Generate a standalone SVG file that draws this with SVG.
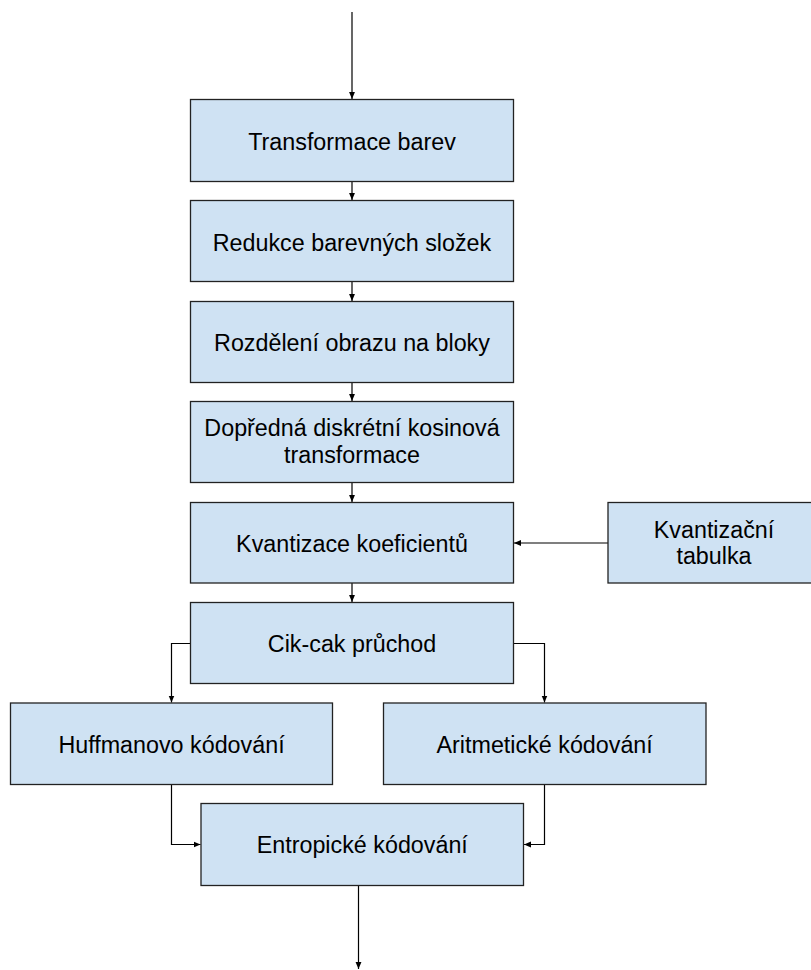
<svg xmlns="http://www.w3.org/2000/svg" width="811" height="970" viewBox="0 0 811 970">
<style>
.box{fill:#cfe2f3;stroke:#222;stroke-width:1.3}
.t{font-family:"Liberation Sans",Arial,sans-serif;font-size:23.3px;fill:#000;text-anchor:middle}
.c{fill:none;stroke:#000;stroke-width:1.2}
</style>
<defs>
<marker id="ah" viewBox="0 0 10 10" refX="10" refY="5" markerWidth="7" markerHeight="7" markerUnits="userSpaceOnUse" orient="auto">
<path d="M0,0.8 L10,5 L0,9.2 z" fill="#000"/>
</marker>
</defs>
<rect width="811" height="970" fill="#fff"/>
<g id="connectors">
<line class="c" x1="352" y1="12" x2="352" y2="99" marker-end="url(#ah)"/>
<line class="c" x1="352" y1="182" x2="352" y2="200" marker-end="url(#ah)"/>
<line class="c" x1="352" y1="282" x2="352" y2="301" marker-end="url(#ah)"/>
<line class="c" x1="352" y1="383" x2="352" y2="401" marker-end="url(#ah)"/>
<line class="c" x1="352" y1="483" x2="352" y2="502" marker-end="url(#ah)"/>
<line class="c" x1="352" y1="583" x2="352" y2="602" marker-end="url(#ah)"/>
<line class="c" x1="608" y1="543" x2="514" y2="543" marker-end="url(#ah)"/>
<polyline class="c" points="190.5,643.5 171.5,643.5 171.5,702.5" marker-end="url(#ah)"/>
<polyline class="c" points="513.5,643.5 544.5,643.5 544.5,702.5" marker-end="url(#ah)"/>
<polyline class="c" points="171.5,784.5 171.5,844.5 200.5,844.5" marker-end="url(#ah)"/>
<polyline class="c" points="544.5,784.5 544.5,844.5 524,844.5" marker-end="url(#ah)"/>
<line class="c" x1="358.5" y1="885.5" x2="358.5" y2="969" marker-end="url(#ah)"/>
</g>
<g id="n1"><rect class="box" x="190.5" y="99.5" width="323" height="82"/><text class="t" x="352" y="149.5">Transformace barev</text></g>
<g id="n2"><rect class="box" x="190.5" y="200.5" width="323" height="81"/><text class="t" x="352" y="250.5">Redukce barevných složek</text></g>
<g id="n3"><rect class="box" x="190.5" y="301.5" width="323" height="81"/><text class="t" x="352" y="350.5">Rozdělení obrazu na bloky</text></g>
<g id="n4"><rect class="box" x="190.5" y="401.5" width="323" height="81"/><text class="t" x="352" y="435.5">Dopředná diskrétní kosinová</text><text class="t" x="352" y="463">transformace</text></g>
<g id="n5"><rect class="box" x="190.5" y="502.5" width="323" height="80.5"/><text class="t" x="352" y="551.5">Kvantizace koeficientů</text></g>
<g id="n6"><rect class="box" x="608" y="502.5" width="212" height="80.5"/><text class="t" x="714" y="537.5">Kvantizační</text><text class="t" x="714" y="564">tabulka</text></g>
<g id="n7"><rect class="box" x="190.5" y="602.5" width="323" height="81"/><text class="t" x="352" y="651.5">Cik-cak průchod</text></g>
<g id="n8"><rect class="box" x="10.5" y="703" width="322" height="81.5"/><text class="t" x="171.5" y="752.5">Huffmanovo kódování</text></g>
<g id="n9"><rect class="box" x="383.5" y="703" width="322.5" height="81.5"/><text class="t" x="544.7" y="752.5">Aritmetické kódování</text></g>
<g id="n10"><rect class="box" x="201" y="803.5" width="322.5" height="82"/><text class="t" x="362.3" y="853">Entropické kódování</text></g>
</svg>
